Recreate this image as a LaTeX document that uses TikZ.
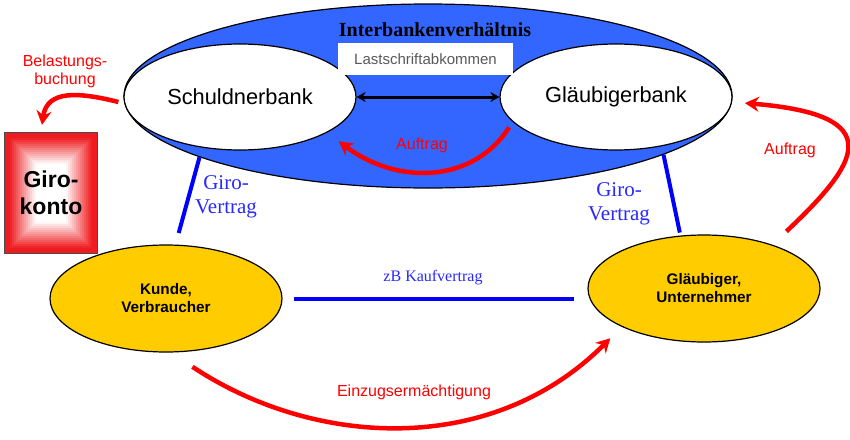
\documentclass[tikz,border=0pt]{standalone}
\usepackage{fontspec}
\setmainfont{Liberation Serif}
\setsansfont{Liberation Sans}
\usepackage{tikz}
\usetikzlibrary{arrows.meta,shapes.geometric}
\definecolor{bankblue}{RGB}{51,102,255}
\definecolor{gold}{RGB}{255,204,0}
\definecolor{vblue}{RGB}{0,0,255}
\definecolor{tblue}{RGB}{40,40,255}
\definecolor{lred}{RGB}{255,0,0}
\definecolor{kred}{RGB}{238,28,32}

\begin{document}
\begin{tikzpicture}[
    x=1pt, y=1pt,
    bank/.style={ellipse, draw, fill=white, line width=1.2pt, minimum width=232pt,
                 minimum height=106pt, inner sep=0pt,
                 font=\sffamily\fontsize{21.8}{26}\selectfont},
    party/.style={ellipse, draw, fill=gold, line width=1.2pt, minimum width=232pt,
                  minimum height=107pt, inner sep=0pt, align=center,
                  font=\sffamily\bfseries\fontsize{15.3}{18}\selectfont},
    contract/.style={vblue, line width=4pt},
    flow/.style={-{Stealth[length=14pt,width=15pt]}, lred, line width=4.5pt},
    lbl/.style={font=\sffamily\fontsize{16}{18}\selectfont, text=lred, align=center},
    vlbl/.style={font=\fontsize{21}{24}\selectfont, text=tblue, align=center}
]
\useasboundingbox (0,0) rectangle (850,-439);

% Interbank relation
\node[ellipse, draw, fill=bankblue, line width=1.2pt, minimum width=608pt,
      minimum height=184pt] (inter) at (428, -96) {};
\node[bank] (sbank) at (240, -97) {Schuldnerbank};
\node[bank] (gbank) at (616, -97) {Gläubigerbank};
\node[rectangle, fill=white, minimum width=175pt, minimum height=32pt,
      text=black!65, font=\sffamily\fontsize{15}{18}\selectfont] (abk) at (425.5, -59)
    {Lastschriftabkommen};
\node[font=\bfseries\fontsize{20}{24}\selectfont] (ibv) at (435, -30)
    {Interbankenverhältnis};
\draw[{Stealth[length=9pt,width=10pt]}-{Stealth[length=9pt,width=10pt]},
      line width=3pt] (sbank.east) -- (gbank.west);

% Auftrag inside
\draw[flow] ([shift={(-8,-2)}]gbank.196) .. controls +(-35,-55) and +(60,-45)
    .. ([shift={(15,-7)}]sbank.336);
\node[lbl] (auf1) at (422, -145) {Auftrag};

% Girokonto
\node[rectangle, fill=kred, minimum width=92pt, minimum height=120pt] (giro) at (51, -193) {};
\foreach \i in {3,5,...,41} {
    \pgfmathsetmacro\p{min(100,max(0,100-(\i-4)*3.8))}
    \fill[kred!\p!white] ([shift={(\i,-\i)}]giro.north west)
        rectangle ([shift={(-\i,\i)}]giro.south east);
}
\draw[black!70, line width=1pt] (giro.north west) rectangle (giro.south east);
\node[align=center, font=\sffamily\bfseries\fontsize{23}{27}\selectfont] (girotxt)
    at (giro) {Giro-\\konto};
\node[lbl] (bel) at (65, -71) {Belastungs-\\buchung};
\draw[flow] ([shift={(-5,-5)}]sbank.west) .. controls +(-40,10) and +(5,35)
    .. ([shift={(-9,8)}]giro.north);

% Parties
\node[party] (kunde) at (166, -298.5) {Kunde,\\Verbraucher};
\node[party] (glaeub) at (704, -288.5) {Gläubiger,\\Unternehmer};

% Contracts
\draw[contract, shorten >=12pt] (inter.195) -- (kunde.80);
\node[vlbl] (gv1) at (226, -197) {Giro-\\Vertrag};
\draw[contract, shorten >=3pt] (inter.346.5) -- (glaeub.114);
\node[vlbl] (gv2) at (619, -204) {Giro-\\Vertrag};
\draw[contract] ([xshift=11pt]kunde.east) -- ([xshift=-13pt]kunde.east -| glaeub.west);
\node[vlbl, font=\fontsize{16}{18}\selectfont] (kv) at (433, -278) {zB Kaufvertrag};

% Einzug and Auftrag
\draw[flow] ([shift={(6,-15)}]kunde.-69) .. controls +(120,-80) and +(-120,-120)
    .. ([shift={(-17,-9)}]glaeub.208.5);
\node[lbl] (einz) at (414, -392) {Einzugsermächtigung};
\draw[flow] ([shift={(18,12)}]glaeub.35) .. controls +(72,68) and +(146,-12)
    .. ([xshift=13pt]gbank.-3);
\node[lbl] (auf2) at (790, -150) {Auftrag};

\end{tikzpicture}
\end{document}
